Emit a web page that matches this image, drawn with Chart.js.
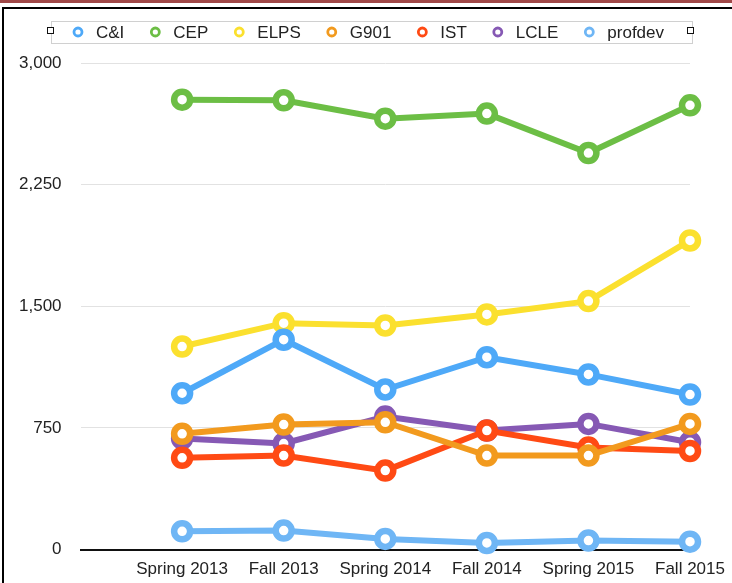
<!DOCTYPE html>
<html>
<head>
<meta charset="utf-8">
<script src="https://cdn.jsdelivr.net/npm/chart.js@4.4.1/dist/chart.umd.min.js"></script>
<style>
  html, body { margin: 0; padding: 0; background: #fff; }
  #wrap { position: relative; width: 732px; height: 583px; overflow: hidden; }
  #topbar { position: absolute; left: 0; top: 0; width: 732px; height: 3px; background: #a04848; }
  #frame { position: absolute; left: 2px; top: 7px; width: 740px; height: 600px;
           border-left: 2px solid #000; border-top: 2px solid #000; }
  canvas { position: absolute; left: 0; top: 0; }
</style>
</head>
<body>
<div id="wrap">
  <div id="topbar"></div>
  <div id="frame"></div>
  <canvas id="chart" width="732" height="583"></canvas>
</div>
<script>
// terms and series
var terms = ["Spring 2013", "Fall 2013", "Spring 2014", "Fall 2014", "Spring 2015", "Fall 2015"];
var yTicks = [0, 750, 1500, 2250, 3000];

var cAndI   = [964, 1294, 987, 1186, 1080, 956];
var cep     = [2774, 2770, 2657, 2688, 2445, 2739];
var elps    = [1252, 1396, 1382, 1450, 1532, 1906];
var g901    = [714, 771, 785, 580, 580, 775];
var ist     = [566, 580, 487, 734, 630, 608];
var lcle    = [685, 654, 820, 734, 775, 662];
var profdev = [113, 117, 66, 41, 56, 49];

var seriesNames = ["C&I", "CEP", "ELPS", "G901", "IST", "LCLE", "profdev"];
var seriesData = [cAndI, cep, elps, g901, ist, lcle, profdev];
var colors = ["#4ea9f8", "#6cbe45", "#fbe02e", "#f29a1e", "#ff4a14", "#8659b4", "#6fb6f5"];

var FONT = '"Liberation Sans", Arial, Helvetica, sans-serif';

var datasets = seriesNames.map(function (name, i) {
    return {
        label: name,
        data: seriesData[i].map(function (v, j) { return { x: j + 1, y: v }; }),
        borderColor: colors[i],
        backgroundColor: colors[i],
        borderWidth: 6,
        tension: 0,
        clip: false,
        pointRadius: 8,
        pointHoverRadius: 8,
        pointBorderWidth: 6.5,
        pointBackgroundColor: '#fff',
        pointBorderColor: colors[i]
    };
});

// legend box drawn by hand, like the original
var boxLegend = {
    id: 'boxLegend',
    afterDraw: function (chart) {
        var ctx = chart.ctx;
        ctx.save();
        ctx.strokeStyle = '#d0d0d0';
        ctx.lineWidth = 1;
        ctx.strokeRect(51.5, 21.5, 641, 22);
        // little end squares
        ctx.fillStyle = '#fff';
        ctx.strokeStyle = '#111';
        [47.5, 687.5].forEach(function (sx) {
            ctx.fillRect(sx, 27.5, 6, 6);
            ctx.strokeRect(sx, 27.5, 6, 6);
        });
        ctx.font = '17px ' + FONT;
        ctx.textBaseline = 'middle';
        var x = 78;
        chart.data.datasets.forEach(function (ds) {
            ctx.beginPath();
            ctx.arc(x, 32, 4, 0, Math.PI * 2);
            ctx.fillStyle = '#fff';
            ctx.fill();
            ctx.lineWidth = 2.8;
            ctx.strokeStyle = ds.borderColor;
            ctx.stroke();
            ctx.fillStyle = '#222';
            ctx.fillText(ds.label, x + 18, 33);
            x += 18 + ctx.measureText(ds.label).width + 31;
        });
        ctx.restore();
    }
};

var ctx = document.getElementById('chart').getContext('2d');
var chart = new Chart(ctx, {
    type: 'line',
    data: { datasets: datasets },
    options: {
        responsive: false,
        animation: false,
        layout: { padding: { top: 63, left: 0, right: 42, bottom: -7 } },
        scales: {
            x: {
                type: 'linear',
                min: 0,
                max: 6,
                border: { display: true, color: '#111', width: 2 },
                grid: { display: false, drawTicks: false },
                afterBuildTicks: function (axis) {
                    axis.ticks = [0, 1, 2, 3, 4, 5, 6].map(function (v) { return { value: v }; });
                },
                afterFit: function (axis) {
                    axis.paddingRight = 0;
                    axis.paddingLeft = 0;
                },
                ticks: {
                    padding: 10,
                    color: '#222',
                    maxRotation: 0,
                    autoSkip: false,
                    font: { family: FONT, size: 17 },
                    callback: function (v) { return v >= 1 ? terms[v - 1] : ''; }
                }
            },
            y: {
                min: 0,
                max: 3000,
                border: { display: false },
                grid: { color: '#e2e2e2', lineWidth: 1, drawTicks: false },
                afterBuildTicks: function (axis) {
                    axis.ticks = yTicks.map(function (v) { return { value: v }; });
                },
                ticks: {
                    padding: 19,
                    color: '#222',
                    font: { family: FONT, size: 17 },
                    callback: function (v) { return v.toLocaleString('en-US'); }
                }
            }
        },
        plugins: {
            legend: { display: false },
            tooltip: { enabled: false }
        }
    },
    plugins: [boxLegend]
});
</script>
</body>
</html>
